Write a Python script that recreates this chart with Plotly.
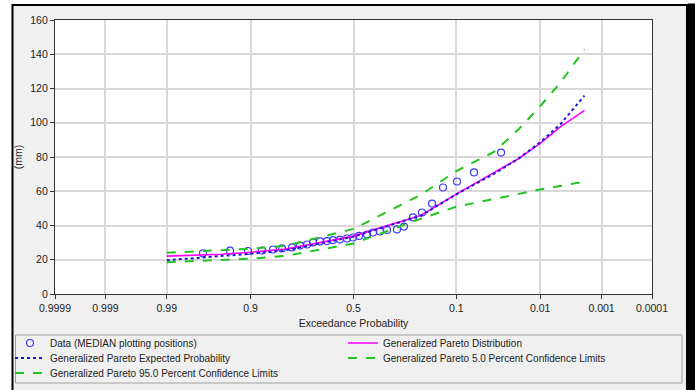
import plotly.graph_objects as go
from statistics import NormalDist

# ---------------- data ----------------
tick_labels = ["0.9999", "0.999", "0.99", "0.9", "0.5", "0.1", "0.01", "0.001", "0.0001"]
tick_probs = [0.9999, 0.999, 0.99, 0.9, 0.5, 0.1, 0.01, 0.001, 0.0001]

data_prob = [0.9696, 0.938, 0.9057, 0.873, 0.842, 0.8135, 0.778, 0.7476, 0.7188, 0.693,
             0.6618, 0.6293, 0.6008, 0.5668, 0.5323, 0.5025, 0.4727, 0.4333, 0.404, 0.3707,
             0.3382, 0.294, 0.2646, 0.2293, 0.1967, 0.164, 0.1324, 0.0986, 0.0666, 0.033]
data_mm = [23.8, 25.3, 25.1, 25.4, 26.0, 26.6, 27.2, 28.3, 28.9, 30.1,
           30.7, 30.9, 31.5, 31.8, 32.4, 33.0, 33.9, 34.7, 35.9, 36.5,
           37.4, 37.7, 39.4, 44.7, 47.6, 52.8, 62.2, 65.7, 71.0, 82.6]

curve_prob = [0.99, 0.95, 0.9, 0.8, 0.5, 0.2, 0.1, 0.04, 0.02, 0.01, 0.005, 0.002]
gp_dist = [22.1, 23.2, 24.4, 26.2, 33.8, 46.0, 58.3, 70.6, 79.0, 88.0, 97.6, 107.2]
gp_expected = [19.7, 22.0, 23.5, 25.6, 33.5, 45.8, 58.2, 70.2, 79.0, 88.6, 99.0, 115.9]
gp_upper5 = [24.1, 25.4, 26.4, 28.2, 38.0, 58.0, 71.8, 83.0, 96.0, 109.7, 123.3, 142.8]
gp_lower95 = [18.6, 19.8, 20.6, 22.3, 29.5, 44.0, 51.0, 55.5, 58.5, 61.0, 63.0, 65.7]

nd = NormalDist()
def z(p):
    return nd.inv_cdf(1.0 - p)

fig = go.Figure()

# pixel -> paper conversions for frame decorations
PL, PR, PT, PB = 55.0, 652.0, 20.5, 294.5
def px(x):
    return (x - PL) / (PR - PL)
def py(y):
    return (PB - y) / (PB - PT)

shapes = [
    dict(type="rect", xref="paper", yref="paper", x0=px(12.5), x1=px(687), y0=py(5.5), y1=py(392),
         fillcolor="#f0f0f0", line=dict(color="#000000", width=2), layer="below"),
    dict(type="rect", xref="paper", yref="paper", x0=px(688), x1=px(697), y0=py(4), y1=py(392),
         fillcolor="#000000", line=dict(width=0), layer="below"),
    dict(type="rect", xref="paper", yref="paper", x0=px(15.5), x1=px(682), y0=py(335.5), y1=py(383.5),
         fillcolor="#f0f0f0", line=dict(color="#a0a0a0", width=1), layer="below"),
    dict(type="rect", xref="paper", yref="paper", x0=0, x1=1, y0=0, y1=1,
         fillcolor="#ffffff", line=dict(width=0), layer="below"),
]

fig.add_trace(go.Scatter(
    x=[z(p) for p in data_prob], y=data_mm, mode="markers",
    name="Data (MEDIAN plotting positions)", legend="legend",
    marker=dict(symbol="circle-open", size=7, color="#3a3aff", line=dict(width=1.2, color="#3a3aff")),
))
fig.add_trace(go.Scatter(
    x=[z(p) for p in curve_prob], y=gp_dist, mode="lines",
    name="Generalized Pareto Distribution", legend="legend2",
    line=dict(color="#ff00ff", width=1.6),
))
fig.add_trace(go.Scatter(
    x=[z(p) for p in curve_prob], y=gp_expected, mode="lines",
    name="Generalized Pareto Expected Probability", legend="legend3",
    line=dict(color="#1a1acc", width=2, dash="dot"),
))
fig.add_trace(go.Scatter(
    x=[z(p) for p in curve_prob], y=gp_upper5, mode="lines",
    name="Generalized Pareto 5.0 Percent Confidence Limits", legend="legend4",
    line=dict(color="#22c422", width=2, dash="dash"),
))
fig.add_trace(go.Scatter(
    x=[z(p) for p in curve_prob], y=gp_lower95, mode="lines",
    name="Generalized Pareto 95.0 Percent Confidence Limits", legend="legend5",
    line=dict(color="#22c422", width=2, dash="dash"),
))

font_family = "Liberation Sans, Arial, sans-serif"
leg_font = dict(family=font_family, size=10, color="#222222")

def leg(xpix, ypix):
    return dict(x=px(xpix), y=py(ypix), xanchor="left", yanchor="middle",
                bgcolor="rgba(0,0,0,0)", borderwidth=0, font=leg_font,
                itemwidth=30, orientation="v")

fig.update_layout(
    width=695, height=390,
    margin=dict(l=55, r=43, t=20, b=96, autoexpand=False),
    paper_bgcolor="#ffffff",
    plot_bgcolor="rgba(0,0,0,0)",
    font=dict(family=font_family, size=11, color="#222222"),
    shapes=shapes,
    showlegend=True,
    legend=leg(10, 343.5),
    legend2=leg(343, 343.5),
    legend3=leg(10, 358.5),
    legend4=leg(343, 358.5),
    legend5=leg(10, 373.5),
    xaxis=dict(
        range=[z(0.9999), z(0.0001)],
        tickvals=[z(p) for p in tick_probs], ticktext=tick_labels,
        showgrid=True, gridcolor="#d9d9d9", gridwidth=1.5,
        showline=True, linecolor="#333333", linewidth=1.3, mirror=True,
        ticks="outside", ticklen=4, tickcolor="#333333",
        zeroline=False,
        title=dict(text="Exceedance Probability", standoff=6, font=dict(size=10.5)),
        tickfont=dict(size=10.5),
    ),
    yaxis=dict(
        range=[0, 160], dtick=20,
        showgrid=True, gridcolor="#d9d9d9", gridwidth=1.5,
        showline=True, linecolor="#333333", linewidth=1.3, mirror=True,
        ticks="outside", ticklen=4, tickcolor="#333333",
        zeroline=False,
        title=dict(text="(mm)", standoff=5, font=dict(size=10.5)),
        tickfont=dict(size=10.5),
    ),
)

fig.write_html("out.html")
